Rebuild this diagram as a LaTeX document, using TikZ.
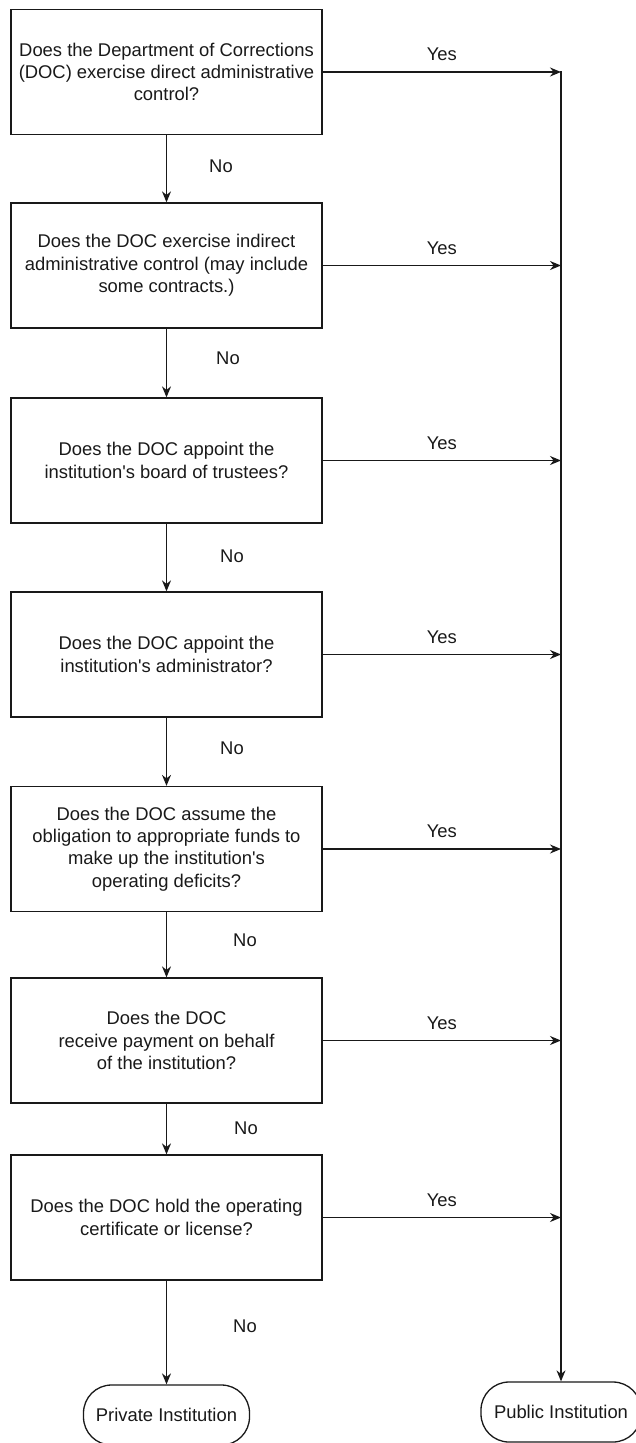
\documentclass[tikz,border=0pt]{standalone}
\usepackage{fontspec}
\setmainfont{Liberation Sans}
\usetikzlibrary{arrows.meta}
\begin{document}
\begin{tikzpicture}[x=1pt,y=-1pt,
  every node/.style={font=\fontsize{18.4}{22.4}\selectfont, text=black!90},
  qbox/.style={draw=black!90, line width=1.3pt, rectangle, minimum width=311pt, minimum height=125pt, align=center, inner sep=2pt},
  term/.style={draw=black!90, line width=1.3pt, rectangle, rounded corners=28pt, minimum height=60pt, inner sep=2pt},
  arr/.style={line width=1.3pt, draw=black!90, -{Stealth[length=11pt,width=9pt]}},
  ylab/.style={midway, above=7pt},
  nlab/.style={}]
\useasboundingbox (0,0) rectangle (636,1443);
\node[qbox] (b1) at (166.5,72) {Does the Department of Corrections\\(DOC) exercise direct administrative\\control?};
\node[qbox] (b2) at (166.5,265.5) {Does the DOC exercise indirect\\administrative control (may include\\some contracts.)};
\node[qbox] (b3) at (166.5,460.5) {Does the DOC appoint the\\institution\textquotesingle s board of trustees?};
\node[qbox] (b4) at (166.5,654.5) {Does the DOC appoint the\\institution\textquotesingle s administrator?};
\node[qbox] (b5) at (166.5,849) {Does the DOC assume the\\obligation to appropriate funds to\\make up the institution\textquotesingle s\\operating deficits?};
\node[qbox] (b6) at (166.5,1040.5) {Does the DOC\\receive payment on behalf\\of the institution?};
\node[qbox] (b7) at (166.5,1217.5) {Does the DOC hold the operating\\certificate or license?};
\node[term, minimum width=166pt] (priv) at (166.5,1415) {Private Institution};
\node[term, minimum width=160pt] (pub) at (561,1412) {Public Institution};
\coordinate (vtop) at (561,71);
% No connectors
\draw[arr] (b1) -- (b2);
\draw[arr] (b2) -- (b3);
\draw[arr] (b3) -- (b4);
\draw[arr] (b4) -- (b5);
\draw[arr] (b5) -- (b6);
\draw[arr] (b6) -- (b7);
\draw[arr] (b7) -- (priv);
\node[nlab] (n1) at (221,166) {No};
\node[nlab] (n2) at (228,358) {No};
\node[nlab] (n3) at (232,556) {No};
\node[nlab] (n4) at (232,748) {No};
\node[nlab] (n5) at (245,940) {No};
\node[nlab] (n6) at (246,1128) {No};
\node[nlab] (n7) at (245,1326) {No};
% Yes connectors
\draw[arr] (b1.east) -- node[ylab] {Yes} (b1.east -| vtop);
\draw[arr] (b2.east) -- node[ylab] {Yes} (b2.east -| vtop);
\draw[arr] (b3.east) -- node[ylab] {Yes} (b3.east -| vtop);
\draw[arr] (b4.east) -- node[ylab] {Yes} (b4.east -| vtop);
\draw[arr] (b5.east) -- node[ylab] {Yes} (b5.east -| vtop);
\draw[arr] (b6.east) -- node[ylab] {Yes} (b6.east -| vtop);
\draw[arr] (b7.east) -- node[ylab] {Yes} (b7.east -| vtop);
\draw[arr] (vtop) -- (pub);
\end{tikzpicture}
\end{document}
